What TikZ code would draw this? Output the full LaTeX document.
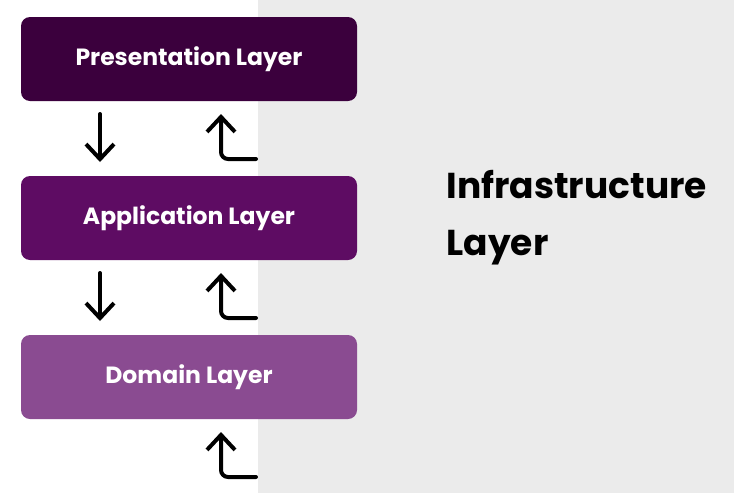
\documentclass[tikz,border=0pt]{standalone}
\usepackage{fontspec}
\setmainfont{Poppins}
\usetikzlibrary{arrows.meta}
\definecolor{presc}{HTML}{3B003D}
\definecolor{appc}{HTML}{5E0C63}
\definecolor{domc}{HTML}{8A4B91}
\definecolor{panelc}{HTML}{EBEBEB}
\begin{document}
\begin{tikzpicture}[x=1pt,y=-1pt,
  layerbox/.style={rounded corners=9pt, minimum width=336pt, minimum height=84pt,
    text=white, font=\bfseries\fontsize{23.5}{28}\selectfont, inner sep=0pt},
  flow/.style={line width=4pt, line cap=round, line join=round, rounded corners=7pt,
    -{Straight Barb[length=15pt,width=28pt,line width=4pt]}}]
\useasboundingbox (0,0) rectangle (734,493);
\fill[white] (0,0) rectangle (734,493);
\fill[panelc] (258,0) rectangle (734,493);
\node[layerbox, fill=presc] (pres) at (189,59) {Presentation Layer};
\node[layerbox, fill=appc] (app) at (189,218) {Application Layer};
\node[layerbox, fill=domc] (dom) at (189,377) {Domain Layer};
\node[anchor=west, align=left, font=\bfseries\fontsize{36}{57}\selectfont] (infra) at (443,218) {Infrastructure\\Layer};
% down arrows
\coordinate (d1s) at (100,114);
\coordinate (d1e) at (100,162);
\coordinate (d2s) at (100,273);
\coordinate (d2e) at (100,321);
\draw[flow] (d1s) -- (d1e);
\draw[flow] (d2s) -- (d2e);
% up hook arrows
\coordinate (u1s) at (256,159);
\coordinate (u1e) at (221,114);
\coordinate (u2s) at (256,318);
\coordinate (u2e) at (221,273);
\coordinate (u3s) at (256,477);
\coordinate (u3e) at (221,432);
\draw[flow] (u1s) -| (u1e);
\draw[flow] (u2s) -| (u2e);
\draw[flow] (u3s) -| (u3e);
\end{tikzpicture}
\end{document}
